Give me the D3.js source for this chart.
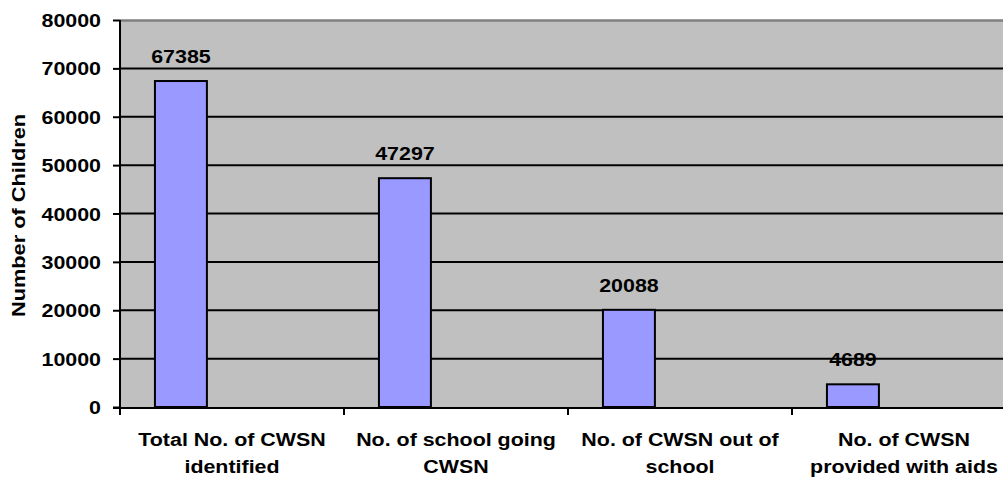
<!DOCTYPE html>
<html><head><meta charset="utf-8">
<script src="https://cdn.jsdelivr.net/npm/d3@7"></script>
<style>body{margin:0;background:#fff}svg{display:block}text{font-family:"Liberation Sans",Arial,sans-serif;font-weight:bold;fill:#000}</style>
</head><body><svg id="c" width="1003" height="479"></svg>
<script>
const categories = [["Total No. of CWSN","identified"],["No. of school going","CWSN"],["No. of CWSN out of","school"],["No. of CWSN","provided with aids"]];
const values = [67385, 47297, 20088, 4689];
const yTicks = [0,10000,20000,30000,40000,50000,60000,70000,80000];
const yTitle = "Number of Children";

(function(){
const svg = d3.select("#c");
const pL = 120, pT = 20, pB = 407, pR = 1016;
const fs = 18, sx = 1.19;
const x = d3.scaleBand().domain(d3.range(categories.length)).range([pL, pR]).padding(0);
const y = d3.scaleLinear().domain([0, 80000]).range([pB, pT]);

svg.append("rect").attr("x", pL).attr("y", pT).attr("width", pR-pL).attr("height", pB-pT).attr("fill", "#c0c0c0");
svg.append("line").attr("x1", pL).attr("x2", pR).attr("y1", pT+0.5).attr("y2", pT+0.5).attr("stroke", "#808080").attr("stroke-width", 2.5);

svg.append("g").selectAll("line").data(yTicks.filter(d => d > 0 && d < 80000)).join("line")
  .attr("x1", pL).attr("x2", pR).attr("y1", d => y(d)).attr("y2", d => y(d))
  .attr("stroke", "#000").attr("stroke-width", 2);

const bw = x.bandwidth();
svg.append("g").selectAll("rect").data(values).join("rect")
  .attr("x", (d,i) => x(i) + bw*0.156)
  .attr("width", bw*0.232)
  .attr("y", d => y(d)).attr("height", d => y(0) - y(d))
  .attr("fill", "#9999ff").attr("stroke", "#000").attr("stroke-width", 2);

svg.append("g").selectAll("text").data(values).join("text")
  .attr("transform", (d,i) => `translate(${x(i) + bw*0.272},${y(d) - 18}) scale(${sx},1)`)
  .attr("text-anchor", "middle").attr("font-size", fs).text(d => d);

const yAxis = d3.axisLeft(y).tickValues(yTicks).tickSize(7).tickFormat(d => d);
const gy = svg.append("g").attr("transform", `translate(${pL},0)`).call(yAxis);
gy.select(".domain").attr("stroke", "#000").attr("stroke-width", 2).attr("d", `M0,${pT}V${pB+1}`);
gy.selectAll(".tick line").attr("stroke", "#000").attr("stroke-width", 2);
gy.selectAll(".tick text").attr("x", null).attr("dy", null)
  .attr("font-size", fs).attr("font-family", null).attr("fill", "#000").attr("text-anchor", "end")
  .attr("transform", `translate(-19,6.5) scale(${sx},1)`);

const gx = svg.append("g").attr("transform", `translate(0,${pB+1})`);
gx.append("line").attr("x1", pL-7).attr("x2", pR).attr("stroke", "#000").attr("stroke-width", 2);
gx.selectAll("line.t").data(d3.range(categories.length+1)).join("line").attr("class","t")
  .attr("x1", i => pL + i*bw).attr("x2", i => pL + i*bw).attr("y1", 0).attr("y2", 7)
  .attr("stroke", "#000").attr("stroke-width", 2);
categories.forEach((lines, i) => {
  lines.forEach((t, j) => {
    svg.append("text").attr("transform", `translate(${x(i) + bw/2},${446 + j*27}) scale(${sx},1)`)
      .attr("text-anchor", "middle").attr("font-size", fs).text(t);
  });
});

svg.append("text").attr("transform", `translate(25,215.5) rotate(-90) scale(1.21,1)`)
  .attr("text-anchor", "middle").attr("font-size", fs).text(yTitle);
})();
</script></body></html>
